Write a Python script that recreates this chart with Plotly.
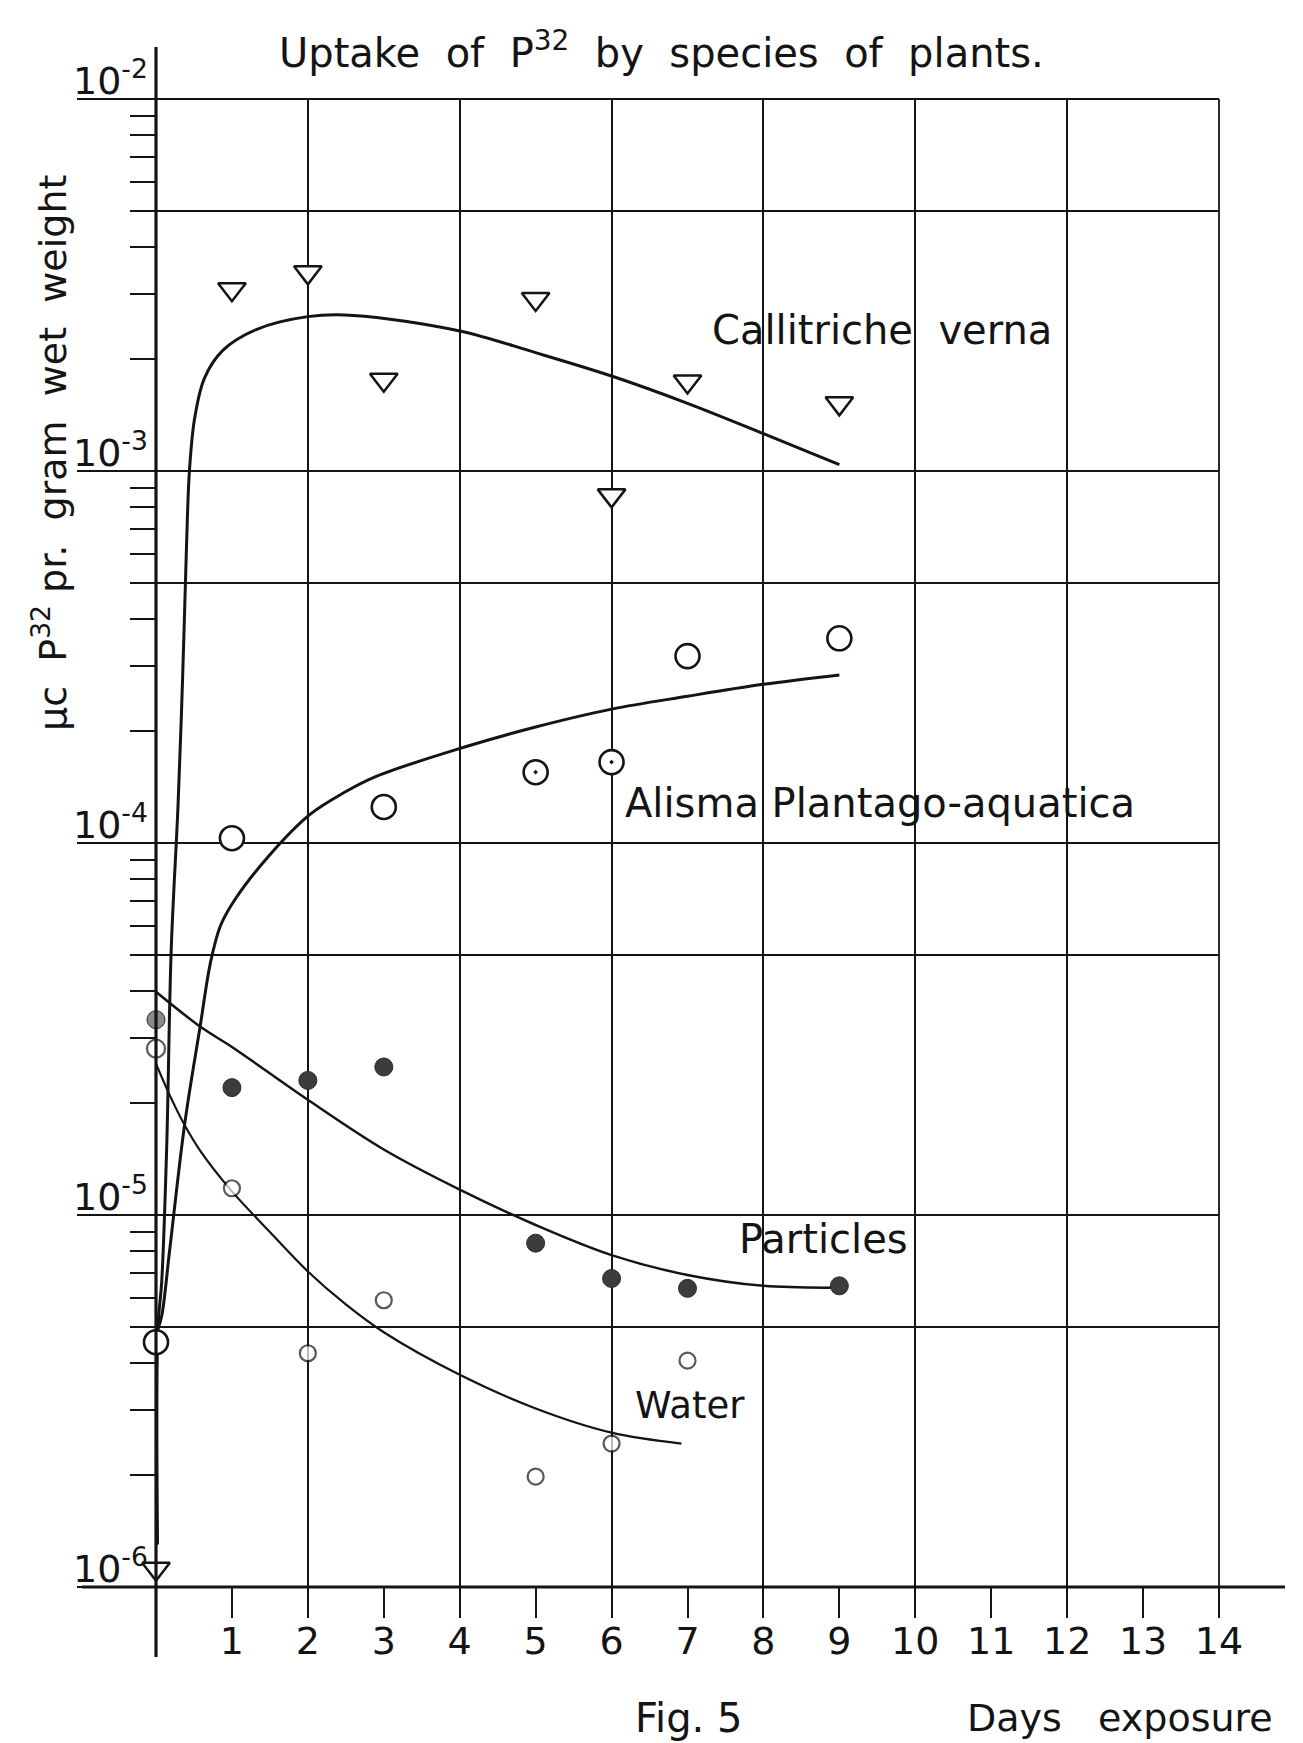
import numpy as np
import plotly.graph_objects as go

# ---------------- data ----------------
CALLITRICHE_DAYS = [0, 1, 2, 3, 5, 6, 7, 9]
CALLITRICHE_VALUES = [1.12e-6, 3.08e-3, 3.42e-3, 1.76e-3, 2.9e-3, 8.6e-4, 1.74e-3, 1.52e-3]
CALLITRICHE_CURVE_DAYS = [0.02, 0.026, 0.075, 0.14, 0.2, 0.29, 0.35, 0.40, 0.44, 0.51, 0.64,
                          0.88, 1.32, 2.0, 2.6, 4.0, 5.0, 6.0, 7.0, 8.0, 9.0]
CALLITRICHE_CURVE_VALUES = [1.3e-6, 5.0e-6, 6.6e-6, 1.5e-5, 5.15e-5, 1.26e-4, 2.76e-4, 6.1e-4,
                            1.0e-3, 1.39e-3, 1.78e-3, 2.11e-3, 2.4e-3, 2.6e-3, 2.62e-3, 2.38e-3,
                            2.08e-3, 1.8e-3, 1.52e-3, 1.26e-3, 1.04e-3]

ALISMA_DAYS = [0, 1, 3, 5, 6, 7, 9]
ALISMA_VALUES = [4.55e-6, 1.03e-4, 1.25e-4, 1.55e-4, 1.65e-4, 3.18e-4, 3.55e-4]
ALISMA_DOTTED = [False, False, False, True, True, False, False]
ALISMA_CURVE_DAYS = [0.02, 0.075, 0.18, 0.38, 0.58, 0.72, 0.85, 1.04, 1.48, 2.02, 2.46, 2.9,
                     4.02, 5.0, 6.0, 7.0, 8.0, 9.0]
ALISMA_CURVE_VALUES = [4.9e-6, 5.35e-6, 8.05e-6, 1.77e-5, 3.2e-5, 4.8e-5, 6.0e-5, 7.05e-5,
                       9.2e-5, 1.19e-4, 1.36e-4, 1.51e-4, 1.8e-4, 2.05e-4, 2.29e-4, 2.48e-4,
                       2.67e-4, 2.83e-4]

PARTICLES_DAYS = [0, 1, 2, 3, 5, 6, 7, 9]
PARTICLES_VALUES = [3.35e-5, 2.2e-5, 2.3e-5, 2.5e-5, 8.4e-6, 6.75e-6, 6.35e-6, 6.45e-6]
PARTICLES_CURVE_DAYS = [0, 0.59, 1, 2, 3, 4, 5, 6, 7, 8, 9]
PARTICLES_CURVE_VALUES = [3.98e-5, 3.2e-5, 2.83e-5, 2.04e-5, 1.5e-5, 1.17e-5, 9.4e-6,
                          7.8e-6, 6.9e-6, 6.45e-6, 6.38e-6]

WATER_DAYS = [0, 1, 2, 3, 5, 6, 7]
WATER_VALUES = [2.8e-5, 1.18e-5, 4.25e-6, 5.9e-6, 1.98e-6, 2.43e-6, 4.06e-6]
WATER_CURVE_DAYS = [0.0, 0.18, 0.38, 0.59, 0.98, 1.5, 2.0, 2.5, 3.0, 4.0, 5.0, 6.0, 6.92]
WATER_CURVE_VALUES = [2.55e-5, 2.1e-5, 1.74e-5, 1.48e-5, 1.17e-5, 9.0e-6, 7.05e-6, 5.75e-6,
                      4.84e-6, 3.72e-6, 3.02e-6, 2.6e-6, 2.43e-6]

X_TICKS = list(range(1, 15))
X_TICK_LABELS = [str(d) for d in X_TICKS]
GRID_DAYS = [2, 4, 6, 8, 10, 12, 14]
DECADES = [1e-6, 1e-5, 1e-4, 1e-3, 1e-2]
DECADE_LABELS = ["10<sup>-6</sup>", "10<sup>-5</sup>", "10<sup>-4</sup>",
                 "10<sup>-3</sup>", "10<sup>-2</sup>"]
GRID_VALUES = [1e-6, 5e-6, 1e-5, 5e-5, 1e-4, 5e-4, 1e-3, 5e-3, 1e-2]
MINOR_VALUES = [m * d for d in DECADES[:-1] for m in range(1, 10)] + [1e-2]

TITLE = "Uptake\u00a0\u00a0of\u00a0\u00a0P<sup>32</sup>\u00a0\u00a0by\u00a0\u00a0species\u00a0\u00a0of\u00a0\u00a0plants."
Y_TITLE = "\u03bcc\u00a0\u00a0P<sup>32</sup>\u00a0pr.\u00a0\u00a0gram\u00a0\u00a0wet\u00a0\u00a0weight"
SERIES_LABELS = ["Callitriche\u00a0\u00a0verna", "Alisma\u00a0Plantago-aquatica", "Particles", "Water"]

# ---------------- figure ----------------
FONT = "DejaVu Sans"
INK = "#141414"
W, H = 1303, 1743
ML, MR, MT, MB = 156, 84, 99, 156

fig = go.Figure()

curve_style = dict(mode="lines", hoverinfo="skip", showlegend=False, cliponaxis=False)
fig.add_trace(go.Scatter(x=CALLITRICHE_CURVE_DAYS, y=CALLITRICHE_CURVE_VALUES,
                         line=dict(color=INK, width=3, shape="spline", smoothing=1.0), **curve_style))
fig.add_trace(go.Scatter(x=ALISMA_CURVE_DAYS, y=ALISMA_CURVE_VALUES,
                         line=dict(color=INK, width=3, shape="spline", smoothing=1.0), **curve_style))
fig.add_trace(go.Scatter(x=PARTICLES_CURVE_DAYS, y=PARTICLES_CURVE_VALUES,
                         line=dict(color=INK, width=2.5, shape="spline", smoothing=1.0), **curve_style))
fig.add_trace(go.Scatter(x=WATER_CURVE_DAYS, y=WATER_CURVE_VALUES,
                         line=dict(color=INK, width=2.2, shape="spline", smoothing=1.0), **curve_style))

pt_style = dict(mode="markers", hoverinfo="skip", showlegend=False, cliponaxis=False)
fig.add_trace(go.Scatter(x=CALLITRICHE_DAYS, y=CALLITRICHE_VALUES,
                         marker=dict(symbol="triangle-down", size=24, color="white",
                                     line=dict(color=INK, width=2.5)), **pt_style))
fig.add_trace(go.Scatter(x=ALISMA_DAYS, y=ALISMA_VALUES,
                         marker=dict(symbol=["circle-dot" if d else "circle" for d in ALISMA_DOTTED],
                                     size=24, color="white", line=dict(color=INK, width=2.6)),
                         **pt_style))
fig.add_trace(go.Scatter(x=PARTICLES_DAYS, y=PARTICLES_VALUES,
                         marker=dict(symbol="circle", size=18,
                                     color=["#8a8a8a"] + ["#3c3c3c"] * (len(PARTICLES_DAYS) - 1),
                                     line=dict(color="#2a2a2a", width=1)), **pt_style))
fig.add_trace(go.Scatter(x=WATER_DAYS, y=WATER_VALUES,
                         marker=dict(symbol="circle", size=[18] + [16] * (len(WATER_DAYS) - 1),
                                     color="white", line=dict(color=INK, width=2.2)), **pt_style))

# dummy traces so the overlay axes (grid / long decade ticks) are drawn
fig.add_trace(go.Scatter(x=[None], y=[None], xaxis="x2", yaxis="y2", showlegend=False, hoverinfo="skip"))
fig.add_trace(go.Scatter(x=[None], y=[None], xaxis="x", yaxis="y3", showlegend=False, hoverinfo="skip"))

YR = [-6, -2]
fig.update_layout(
    width=W, height=H,
    margin=dict(l=ML, r=MR, t=MT, b=MB, pad=0),
    paper_bgcolor="white", plot_bgcolor="rgba(0,0,0,0)",
    font=dict(family=FONT, color=INK, size=36),
    showlegend=False,
    xaxis=dict(range=[0, 14], tickmode="array", tickvals=X_TICKS, ticktext=X_TICK_LABELS,
               ticks="outside", ticklen=30, tickwidth=2, tickcolor=INK, ticklabelstandoff=-10,
               showgrid=False, zeroline=False, showline=False,
               tickfont=dict(size=38, family=FONT, color=INK)),
    xaxis2=dict(range=[0, 14], overlaying="x", anchor="y", tickmode="array", tickvals=GRID_DAYS,
                showgrid=True, gridcolor=INK, gridwidth=1.7, ticks="", showticklabels=False,
                zeroline=False, showline=False),
    yaxis=dict(type="log", range=YR, tickmode="array", tickvals=MINOR_VALUES,
               ticks="outside", ticklen=25, tickwidth=2, tickcolor=INK,
               showticklabels=False, showgrid=False, zeroline=False, showline=False),
    yaxis2=dict(type="log", range=YR, overlaying="y", anchor="x", tickmode="array",
                tickvals=GRID_VALUES, showgrid=True, gridcolor=INK, gridwidth=1.7,
                ticks="", showticklabels=False, zeroline=False, showline=False),
    yaxis3=dict(type="log", range=YR, overlaying="y", anchor="x", tickmode="array",
                tickvals=DECADES, ticks="outside", ticklen=78, tickwidth=2, tickcolor=INK,
                showticklabels=False, showgrid=False, zeroline=False, showline=False),
)

# extended axis lines and frame edges as in the hand-drawn original
PW, PH = W - ML - MR, H - MT - MB
fig.add_shape(type="line", xref="paper", yref="paper", x0=0, x1=0,
              y0=-70 / PH, y1=1 + 52 / PH, line=dict(color=INK, width=3.2))
fig.add_shape(type="line", xref="paper", yref="paper", x0=-74 / PW, x1=1 + 66 / PW,
              y0=0, y1=0, line=dict(color=INK, width=3.2))
fig.add_shape(type="line", xref="paper", yref="paper", x0=0, x1=1, y0=1, y1=1,
              line=dict(color=INK, width=2))
fig.add_shape(type="line", xref="paper", yref="paper", x0=1, x1=1, y0=0, y1=1,
              line=dict(color=INK, width=1.8))

ann = []
for v, lab in zip(DECADES, DECADE_LABELS):
    ann.append(dict(xref="paper", yref="y", x=0, y=np.log10(v), xanchor="right", yanchor="bottom",
                    xshift=-6, yshift=-6, text=lab, showarrow=False,
                    font=dict(size=38, family=FONT, color=INK)))

ann.append(dict(xref="paper", yref="paper", x=(661 - ML) / PW, y=1 + (MT - 50) / PH,
                xanchor="center", yanchor="middle", text=TITLE, showarrow=False,
                font=dict(size=40, family=FONT, color=INK)))
ann.append(dict(xref="paper", yref="paper", x=-(ML - 50) / PW, y=(H - MB - 453) / PH,
                xanchor="center", yanchor="middle", textangle=-90, text=Y_TITLE, showarrow=False,
                font=dict(size=38, family=FONT, color=INK)))
ann.append(dict(xref="paper", yref="paper", x=(688 - ML) / PW, y=-(1718 - (H - MB)) / PH,
                xanchor="center", yanchor="middle", text="Fig.\u00a05", showarrow=False,
                font=dict(size=40, family=FONT, color=INK)))
ann.append(dict(xref="paper", yref="paper", x=(1120 - ML) / PW, y=-(1718 - (H - MB)) / PH,
                xanchor="center", yanchor="middle", text="Days\u00a0\u00a0\u00a0exposure",
                showarrow=False, font=dict(size=38, family=FONT, color=INK)))

label_pos = [(7.3, 2.4e-3), (6.15, 1.28e-4), (7.65, 8.6e-6), (6.28, 3.07e-6)]
label_size = [40, 40, 40, 37]
for (lx, ly), lab, fs in zip(label_pos, SERIES_LABELS, label_size):
    ann.append(dict(xref="x", yref="y", x=lx, y=np.log10(ly), xanchor="left", yanchor="middle",
                    text=lab, showarrow=False, font=dict(size=fs, family=FONT, color=INK)))

fig.update_layout(annotations=ann)

fig.write_html("out.html", include_plotlyjs=True, config={"displayModeBar": False},
               post_script="document.body.style.margin='0';document.body.style.padding='0';")
